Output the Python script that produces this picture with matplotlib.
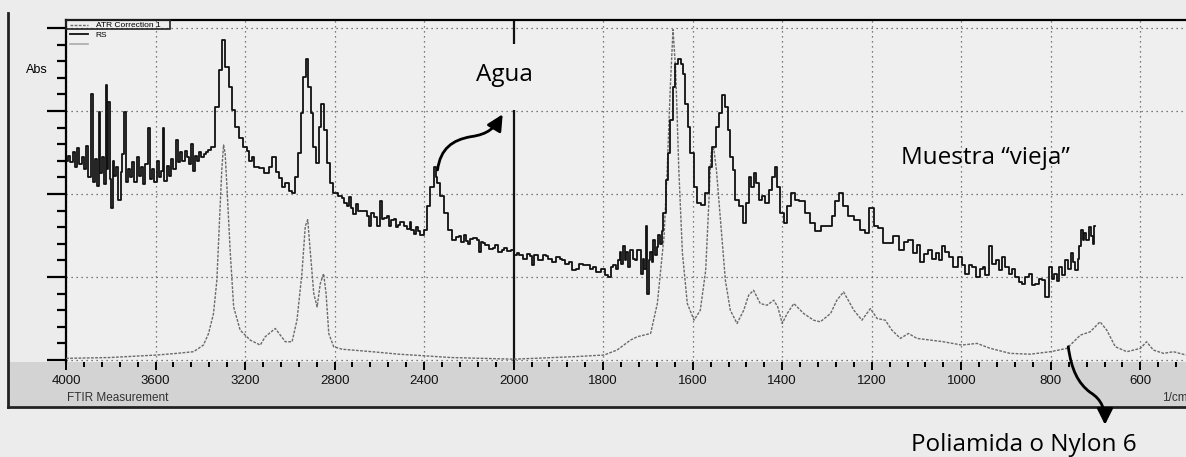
import numpy as np
import matplotlib
matplotlib.use("Agg")
import matplotlib.pyplot as plt
from matplotlib.path import Path
from matplotlib.patches import FancyArrowPatch, Rectangle
from matplotlib.lines import Line2D
from matplotlib.ticker import FixedLocator, NullFormatter

# referencia "ATR Correction 1" (Nylon 6), linea punteada gris
atr_wn = [4000, 3803, 3594, 3505, 3430, 3386, 3363, 3341, 3326, 3314, 3304, 3296, 3289,
          3281, 3266, 3251, 3222, 3177, 3132, 3110, 3065, 3020, 2990, 2968, 2946, 2931,
          2920, 2908, 2893, 2878, 2864, 2849, 2838, 2826, 2804, 2767, 2632, 2513, 2394,
          2282, 2000, 1865, 1798, 1769, 1739, 1724, 1694, 1679, 1664, 1657, 1650, 1644,
          1638, 1631, 1623, 1612, 1597, 1583, 1571, 1564, 1559, 1553, 1547, 1538, 1527,
          1516, 1501, 1486, 1475, 1464, 1449, 1434, 1419, 1410, 1400, 1389, 1374, 1352,
          1330, 1315, 1292, 1278, 1263, 1240, 1222, 1203, 1188, 1170, 1155, 1136, 1118,
          1099, 1069, 1040, 999, 965, 935, 891, 846, 801, 764, 734, 712, 690, 675, 656,
          630, 600, 586, 571, 548, 526, 498]
atr_abs = [0.02, 0.03, 0.06, 0.08, 0.10, 0.18, 0.32, 0.56, 0.96, 1.69, 2.29, 2.59, 2.49,
           2.09, 1.29, 0.64, 0.36, 0.24, 0.18, 0.28, 0.38, 0.22, 0.22, 0.48, 1.04, 1.61,
           1.69, 1.29, 0.80, 0.64, 0.92, 1.04, 0.80, 0.32, 0.16, 0.13, 0.10, 0.07, 0.05,
           0.03, 0.01, 0.04, 0.06, 0.12, 0.24, 0.28, 0.32, 0.68, 1.49, 2.29, 3.29, 3.98,
           3.49, 2.29, 1.29, 0.68, 0.48, 0.60, 1.08, 1.89, 2.49, 2.55, 2.29, 1.69, 0.96,
           0.60, 0.44, 0.60, 0.78, 0.84, 0.68, 0.66, 0.72, 0.64, 0.44, 0.56, 0.68, 0.56,
           0.48, 0.46, 0.56, 0.72, 0.82, 0.60, 0.48, 0.62, 0.50, 0.48, 0.36, 0.26, 0.32,
           0.26, 0.24, 0.22, 0.18, 0.20, 0.14, 0.08, 0.07, 0.10, 0.14, 0.30, 0.34, 0.46,
           0.36, 0.16, 0.10, 0.14, 0.22, 0.12, 0.08, 0.10, 0.06]

# muestra "vieja" (RS), linea negra ruidosa: pares (1/cm, abs)
rs_points = [
    (3995, 2.40), (3985, 2.46), (3975, 2.38), (3965, 2.50), (3955, 2.32), (3945, 2.55),
    (3935, 2.36), (3925, 2.44), (3915, 2.30), (3905, 2.58), (3895, 2.20), (3885, 3.21),
    (3875, 2.14), (3865, 2.42), (3855, 2.10), (3850, 2.99), (3845, 2.25), (3835, 2.45),
    (3825, 2.12), (3820, 3.31), (3815, 2.30), (3806, 3.11), (3800, 2.18), (3796, 1.83),
    (3788, 2.40), (3780, 2.22), (3770, 2.32), (3761, 1.93), (3752, 2.26), (3745, 2.48),
    (3736, 2.99), (3728, 2.15), (3720, 2.30), (3710, 2.20), (3700, 2.38), (3690, 2.14),
    (3680, 2.45), (3670, 2.22), (3660, 2.33), (3650, 2.12), (3640, 2.36), (3627, 2.79),
    (3620, 2.18), (3610, 2.30), (3600, 2.15), (3590, 2.40), (3580, 2.20), (3570, 2.28),
    (3564, 2.79), (3556, 2.16), (3545, 2.34), (3535, 2.22), (3525, 2.42), (3515, 2.30),
    (3502, 2.65), (3495, 2.38), (3485, 2.50), (3475, 2.40), (3465, 2.52), (3455, 2.44),
    (3445, 2.36), (3438, 2.60), (3430, 2.28), (3420, 2.46), (3410, 2.40), (3400, 2.50),
    (3390, 2.44), (3380, 2.48), (3370, 2.50), (3360, 2.53),
    (3341, 2.57), (3326, 3.05), (3311, 3.49), (3296, 3.86), (3281, 3.53), (3266, 3.29),
    (3251, 3.01), (3236, 2.81), (3222, 2.67), (3199, 2.57), (3186, 2.52), (3177, 2.40),
    (3165, 2.44), (3154, 2.33), (3125, 2.31), (3102, 2.25), (3087, 2.33), (3068, 2.45),
    (3057, 2.27), (3043, 2.19), (3028, 2.09), (3013, 2.13), (2998, 2.03), (2983, 2.01),
    (2972, 2.21), (2958, 2.49), (2946, 2.97), (2934, 3.41), (2923, 3.63), (2913, 3.29),
    (2901, 2.97), (2889, 2.57), (2878, 2.37), (2864, 2.81), (2853, 3.09), (2841, 2.77),
    (2829, 2.37), (2814, 2.13), (2796, 2.01), (2774, 1.97),
    (2760, 1.95), (2752, 1.89), (2740, 1.85), (2735, 1.96), (2722, 1.83), (2710, 1.76),
    (2700, 1.88), (2692, 1.79), (2680, 1.80), (2662, 1.79), (2650, 1.74), (2640, 1.61),
    (2632, 1.77), (2620, 1.72), (2602, 1.61), (2595, 1.91), (2585, 1.70), (2573, 1.71),
    (2560, 1.74), (2550, 1.62), (2543, 1.69), (2530, 1.70), (2520, 1.60), (2513, 1.63),
    (2500, 1.66), (2483, 1.61), (2470, 1.58), (2460, 1.66), (2453, 1.57), (2440, 1.52),
    (2430, 1.60), (2424, 1.55), (2410, 1.50), (2394, 1.57), (2379, 1.85), (2364, 2.09),
    (2352, 2.33), (2345, 2.20), (2337, 2.13), (2322, 1.97), (2304, 1.77), (2286, 1.57),
    (2267, 1.45),
    (2250, 1.48), (2237, 1.49), (2230, 1.42), (2215, 1.50), (2207, 1.43), (2200, 1.40),
    (2190, 1.46), (2170, 1.47), (2160, 1.44), (2148, 1.30), (2140, 1.42), (2133, 1.41),
    (2120, 1.38), (2100, 1.34), (2088, 1.35), (2080, 1.38), (2060, 1.30), (2043, 1.33),
    (2040, 1.35), (2020, 1.31), (2006, 1.33), (1995, 1.26), (1990, 1.29), (1984, 1.27),
    (1975, 1.22), (1965, 1.28), (1962, 1.25), (1958, 1.14), (1950, 1.26), (1940, 1.20),
    (1930, 1.27), (1925, 1.25), (1920, 1.22), (1910, 1.18), (1900, 1.24), (1895, 1.22),
    (1890, 1.20), (1880, 1.16), (1873, 1.18), (1865, 1.08), (1858, 1.10), (1848, 1.16),
    (1843, 1.14), (1832, 1.15), (1825, 1.10), (1821, 1.12), (1810, 1.06), (1798, 1.10),
    (1792, 1.02), (1787, 1.00), (1780, 1.12), (1776, 1.14), (1768, 1.10), (1765, 1.20),
    (1762, 1.30), (1758, 1.16), (1754, 1.37), (1750, 1.20), (1746, 1.30), (1742, 1.12),
    (1738, 1.33), (1735, 1.33), (1730, 1.22), (1728, 1.20), (1722, 1.33), (1720, 1.33),
    (1713, 1.04), (1710, 1.22), (1706, 1.10), (1703, 1.61), (1700, 0.80), (1697, 1.20),
    (1694, 1.30), (1690, 1.18), (1686, 1.45), (1682, 1.26), (1679, 1.36), (1675, 1.50),
    (1671, 1.40), (1668, 1.56), (1663, 1.77), (1658, 2.17), (1653, 2.49), (1648, 2.89),
    (1642, 3.29), (1635, 3.57), (1629, 3.63), (1623, 3.57), (1620, 3.45), (1614, 3.09),
    (1609, 2.81), (1601, 2.49), (1594, 2.09), (1586, 1.89), (1579, 1.87), (1568, 2.01),
    (1560, 2.33), (1553, 2.57), (1545, 2.81), (1538, 2.97), (1530, 3.19), (1525, 3.05),
    (1519, 2.77), (1514, 2.45), (1508, 2.29), (1501, 1.93), (1493, 1.85), (1484, 1.65),
    (1478, 1.89), (1472, 2.21), (1467, 2.09), (1461, 2.25), (1456, 2.13), (1450, 1.93),
    (1441, 1.97), (1434, 1.89), (1425, 2.05), (1419, 2.21), (1414, 2.33), (1408, 2.09),
    (1400, 1.77), (1393, 1.65), (1385, 1.85), (1374, 2.01), (1367, 1.93), (1356, 1.91),
    (1344, 1.77), (1333, 1.65), (1322, 1.55), (1307, 1.61), (1292, 1.61), (1285, 1.73),
    (1278, 1.91), (1270, 2.01),
    (1259, 1.85), (1248, 1.73), (1233, 1.69), (1218, 1.57), (1211, 1.53), (1200, 1.83),
    (1192, 1.61), (1181, 1.59), (1170, 1.41), (1159, 1.41), (1144, 1.49), (1133, 1.33),
    (1125, 1.42), (1114, 1.45), (1103, 1.29), (1095, 1.38), (1088, 1.18), (1080, 1.28),
    (1069, 1.33), (1060, 1.22), (1054, 1.29), (1047, 1.20), (1040, 1.37), (1032, 1.30),
    (1025, 1.24), (1013, 1.12), (1002, 1.24), (995, 1.15), (987, 1.04), (980, 1.14),
    (973, 1.12), (961, 1.00), (955, 1.10), (950, 1.12), (943, 1.02), (935, 1.37),
    (927, 1.16), (920, 1.20), (913, 1.08), (906, 1.24), (898, 1.12), (891, 1.04),
    (884, 1.10), (876, 1.00), (868, 0.94), (861, 0.92), (853, 1.00), (846, 1.04),
    (839, 0.90), (831, 0.92), (824, 0.98), (816, 0.96), (809, 0.76), (801, 1.12),
    (795, 0.98), (790, 1.04), (784, 0.95), (779, 1.12), (771, 1.02), (764, 1.20),
    (758, 1.10), (753, 1.29), (748, 1.18), (742, 1.08), (738, 1.22), (734, 1.37),
    (731, 1.57), (727, 1.44), (723, 1.53), (719, 1.45), (716, 1.45), (712, 1.60),
    (708, 1.49), (704, 1.40), (701, 1.61),
]
rs_wn = [p[0] for p in rs_points]
rs_abs = [p[1] for p in rs_points]

xticks_major = [4000, 3600, 3200, 2800, 2400, 2000, 1800, 1600, 1400, 1200, 1000, 800, 600]
yticks_major = [0, 1, 2, 3, 4]

W, H = 1186, 457


def fx(px):
    return px / W


def fy(py):
    return 1 - py / H


# escala con cambio en 2000 1/cm (la zona alta va comprimida a la mitad)
def fwd(x):
    x = np.asarray(x, dtype=float)
    return np.where(x >= 2000, 1000 + x / 2, x)


def inv(u):
    u = np.asarray(u, dtype=float)
    return np.where(u >= 2000, (u - 1000) * 2, u)


fig = plt.figure(figsize=(W / 100, H / 100), dpi=100, facecolor='#ececec')

# banda gris de las etiquetas y marco exterior (detras de los ejes)
fig.patches.append(Rectangle((fx(8), fy(406)), fx(W - 8), fy(362) - fy(406),
                             transform=fig.transFigure, facecolor='#d3d3d3', edgecolor='none', zorder=-5))
fig.add_artist(Line2D([fx(8), fx(8)], [fy(13), fy(407)], color='#222222', lw=2, zorder=-4))
fig.add_artist(Line2D([fx(8), 1], [fy(407), fy(407)], color='#222222', lw=2, zorder=-4))

ax = fig.add_axes([fx(66), fy(362), fx(W - 66), fy(20) - fy(362)])
ax.set_facecolor('#efefef')
ax.set_xscale('function', functions=(fwd, inv))
ax.set_xlim(4000, 498)
ax.set_ylim(-0.024, 4.096)

for s in ['right', 'bottom']:
    ax.spines[s].set_visible(False)
ax.spines['left'].set_linewidth(1.6)
ax.spines['top'].set_linewidth(1.6)

ax.xaxis.set_major_locator(FixedLocator(xticks_major))
ax.xaxis.set_minor_locator(FixedLocator(list(range(3920, 2000, -80)) + list(range(1960, 498, -40))))
ax.set_xticklabels([str(t) for t in xticks_major], fontfamily='Liberation Sans', fontsize=9.5, color='#111111')
ax.xaxis.set_minor_formatter(NullFormatter())
ax.tick_params(axis='x', which='major', direction='out', length=6, width=1.4, pad=3.5)
ax.tick_params(axis='x', which='minor', direction='out', length=3.5, width=1.4)

ax.yaxis.set_major_locator(FixedLocator(yticks_major))
ax.yaxis.set_minor_locator(FixedLocator([i / 5 for i in range(1, 21) if i % 5]))
ax.yaxis.set_major_formatter(NullFormatter())
ax.tick_params(axis='y', which='major', direction='out', length=14, width=1.6)
ax.tick_params(axis='y', which='minor', direction='out', length=6.5, width=1.6)

grid_kw = dict(color='#555555', lw=0.9, ls=(0, (1, 3)), zorder=1)
for v in yticks_major:
    ax.axhline(v, **grid_kw)
for t in xticks_major:
    if t != 2000:
        ax.axvline(t, **grid_kw)
# linea solida en 2000 (interrumpida por el texto "Agua")
ax.vlines(2000, 3.81, 4.096, color='#111111', lw=1.6, zorder=2)
ax.vlines(2000, -0.05, 3.01, color='#111111', lw=1.6, zorder=2, clip_on=False)

l_atr, = ax.plot(atr_wn, atr_abs, color='#6a6a6a', lw=1.0, ls=(0, (2, 1)), zorder=3)
l_rs, = ax.plot(rs_wn, rs_abs, color='#111111', lw=1.3, drawstyle='steps-mid', zorder=4)

leg = ax.legend([l_atr, l_rs, Line2D([], [], color='#aaaaaa', lw=1.2)],
                ['ATR Correction 1', 'RS', ''], loc='upper left', bbox_to_anchor=(0.002, 1.0),
                frameon=False, prop={'family': 'Liberation Sans', 'size': 6},
                handlelength=2.2, handletextpad=0.9, labelspacing=0.25, borderpad=0.1,
                borderaxespad=0.1)
fig.patches.append(Rectangle((fx(66), fy(29)), fx(104), fy(20) - fy(29), transform=fig.transFigure,
                             facecolor='none', edgecolor='#222222', lw=1.2, zorder=5))

fig.text(fx(37), fy(70), 'Abs', ha='center', va='center', fontfamily='Liberation Sans', fontsize=9)
fig.text(fx(67), fy(398), 'FTIR Measurement', ha='left', va='center', fontfamily='Liberation Sans',
         fontsize=8.5, color='#333333')
fig.text(fx(1162), fy(398), '1/cm', ha='left', va='center', fontfamily='Liberation Sans',
         fontsize=8.5, color='#333333')

# anotaciones
ann_font = dict(fontfamily='Open Sans', fontsize=17.5, color='black')
ax.text(2043, 3.43, 'Agua', ha='center', va='center', **ann_font)
ax.text(946, 2.43, 'Muestra \u201cvieja\u201d', ha='center', va='center', **ann_font)
fig.text(fx(1024), fy(451), 'Poliamida o Nylon 6', ha='center', va='baseline', **ann_font)

codes = [Path.MOVETO] + [Path.CURVE4] * 6
agua = Path([(2340, 2.29), (2327, 2.55), (2273, 2.65), (2192, 2.69),
             (2112, 2.72), (2085, 2.80), (2049, 2.96)], codes)
ax.add_patch(FancyArrowPatch(path=agua, arrowstyle='-|>,head_length=0.6,head_width=0.3',
                             mutation_scale=16, lw=2, color='black', zorder=6))
nylon = Path([(761, 0.16), (754, -0.12), (739, -0.28), (712, -0.39),
              (685, -0.48), (679, -0.60), (679, -0.78)], codes)
ax.add_patch(FancyArrowPatch(path=nylon, arrowstyle='-|>,head_length=0.6,head_width=0.3',
                             mutation_scale=16, lw=2, color='black', zorder=6, clip_on=False))

fig.savefig('out.png', dpi=100, facecolor=fig.get_facecolor())
